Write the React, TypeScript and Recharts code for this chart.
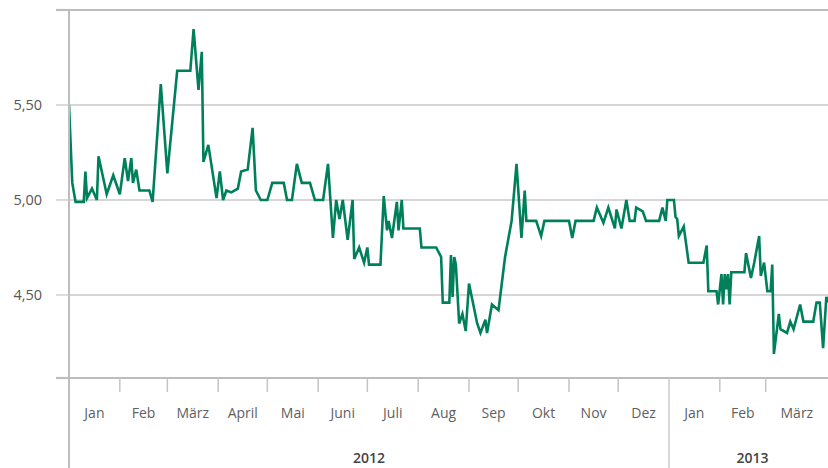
import React from 'react';
import { LineChart, Line, XAxis, YAxis, CartesianGrid, ReferenceLine } from 'recharts';

// day offsets from 1 Jan 2012
const days = [
  0, 2, 4, 9, 10, 11, 14, 17, 18, 23, 27, 31, 34, 36, 38, 39, 41, 43, 49, 51,
  56, 60, 66, 74, 76, 79, 81, 82, 85, 90, 92, 94, 96, 99, 103, 105, 109, 112, 114, 117,
  121, 124, 131, 133, 136, 139, 142, 147, 150, 155, 158, 161, 163, 165, 167, 170, 173, 174, 177, 180,
  182, 183, 190, 192, 194, 195, 197, 200, 201, 203, 204, 214, 215, 224, 227, 228, 232, 233, 234, 235,
  236, 238, 240, 242, 244, 249, 251, 254, 255, 258, 262, 266, 270, 273, 276, 278, 279, 285, 288, 290,
  305, 307, 309, 320, 322, 326, 329, 333, 334, 337, 340, 342, 345, 346, 350, 352, 360, 362, 364, 365,
  369, 370, 371, 372, 375, 378, 387, 389, 390, 395, 396, 398, 399, 400, 401, 402, 403, 404, 412, 413,
  416, 418, 421, 422, 424, 426, 428, 429, 430, 433, 434, 438, 440, 442, 446, 448, 454, 456, 458, 460,
  462, 463,
];

const rates = [
  5.50, 5.09, 4.99, 4.99, 5.15, 5.01, 5.06, 5.00, 5.23, 5.03, 5.13, 5.03, 5.22, 5.10, 5.22, 5.09, 5.16, 5.05, 5.05, 4.99,
  5.61, 5.14, 5.68, 5.68, 5.90, 5.58, 5.78, 5.20, 5.29, 5.01, 5.15, 5.00, 5.05, 5.04, 5.06, 5.15, 5.16, 5.38, 5.05, 5.00,
  5.00, 5.09, 5.09, 5.00, 5.00, 5.19, 5.09, 5.09, 5.00, 5.00, 5.19, 4.80, 5.00, 4.90, 5.00, 4.79, 5.00, 4.69, 4.75, 4.67,
  4.75, 4.66, 4.66, 5.02, 4.84, 4.89, 4.80, 4.99, 4.84, 5.00, 4.85, 4.85, 4.75, 4.75, 4.70, 4.46, 4.46, 4.71, 4.49, 4.70,
  4.66, 4.35, 4.40, 4.31, 4.56, 4.35, 4.30, 4.37, 4.30, 4.45, 4.42, 4.70, 4.89, 5.19, 4.80, 5.05, 4.89, 4.89, 4.81, 4.89,
  4.89, 4.80, 4.89, 4.89, 4.96, 4.88, 4.96, 4.85, 4.95, 4.85, 5.00, 4.89, 4.89, 4.96, 4.94, 4.89, 4.89, 4.96, 4.89, 5.00,
  5.00, 4.91, 4.90, 4.81, 4.86, 4.67, 4.67, 4.76, 4.52, 4.52, 4.45, 4.61, 4.45, 4.61, 4.53, 4.61, 4.45, 4.62, 4.62, 4.72,
  4.59, 4.67, 4.81, 4.60, 4.67, 4.52, 4.52, 4.66, 4.19, 4.40, 4.32, 4.30, 4.36, 4.32, 4.45, 4.36, 4.36, 4.46, 4.46, 4.22,
  4.49, 4.46,
];

const monthStarts = [0, 31, 60, 91, 121, 152, 182, 213, 244, 274, 305, 335, 366, 397, 425];
const monthLabels = ['Jan', 'Feb', 'März', 'April', 'Mai', 'Juni', 'Juli', 'Aug', 'Sep', 'Okt', 'Nov', 'Dez', 'Jan', 'Feb', 'März'];
const yearStarts = [0, 366];
const yearLabels = ['2012', '2013'];
const yearLabelDays = [183, 417];
const yLabelTicks = [4.5, 5.0, 5.5];

const X_MAX = 463;
const Y_MIN = 4.063;
const Y_MAX = 6.0;

const data = days.map((d, i) => ({ day: d, rate: rates[i] }));

const monthMids = monthStarts.map((s, i) => (s + (i + 1 < monthStarts.length ? monthStarts[i + 1] : X_MAX)) / 2);
const xTicks = [...monthStarts, ...monthMids, ...yearLabelDays].sort((a, b) => a - b);
const yTicks = [Y_MIN, ...yLabelTicks, Y_MAX];

const FONT = '"Open Sans", "Noto Sans", sans-serif';

const XTick = (props: any) => {
  const { x, y, payload } = props;
  const v = payload.value;
  const yi = yearStarts.indexOf(v);
  if (yi === 0) {
    return <line x1={x} x2={x} y1={y} y2={y + 95} stroke="#bdbdbd" strokeWidth={2} />;
  }
  if (yi > 0) {
    return <line x1={x} x2={x} y1={y} y2={y + 95} stroke="#c4c4c4" strokeWidth={1.3} />;
  }
  if (monthStarts.indexOf(v) >= 0) {
    return <line x1={x} x2={x} y1={y} y2={y + 14} stroke="#c4c4c4" strokeWidth={1.5} />;
  }
  const mi = monthMids.indexOf(v);
  if (mi >= 0) {
    return (
      <text x={x} y={y + 40} textAnchor="middle" fill="#5f5f5f" fontSize={14} fontFamily={FONT}>
        {monthLabels[mi]}
      </text>
    );
  }
  const li = yearLabelDays.indexOf(v);
  if (li >= 0) {
    return (
      <text x={x} y={y + 85} textAnchor="middle" fill="#444" fontSize={14} fontWeight={600} fontFamily={FONT}>
        {yearLabels[li]}
      </text>
    );
  }
  return null;
};

const YTick = (props: any) => {
  const { x, y, payload } = props;
  const v = payload.value;
  const isTop = v === Y_MAX;
  const isBottom = v === Y_MIN;
  return (
    <g>
      <line
        x1={x + 14}
        x2={x + 27}
        y1={y}
        y2={y}
        stroke={isTop || isBottom ? '#bdbdbd' : '#c8c8c8'}
        strokeWidth={isTop || isBottom ? 2.2 : 1.3}
      />
      {yLabelTicks.indexOf(v) >= 0 && (
        <text x={x} y={y} dy={5} textAnchor="end" fill="#555" fontSize={14.5} fontFamily={FONT}>
          {v.toFixed(2).replace('.', ',')}
        </text>
      )}
    </g>
  );
};

export default function App() {
  return (
    <div style={{ position: 'absolute', left: 0, top: 0, width: 828, height: 468, background: '#fff' }}>
      <LineChart width={828} height={468} data={data} margin={{ top: 10, right: 0, bottom: 0, left: 0 }}>
        <CartesianGrid horizontal vertical={false} stroke="#c8c8c8" strokeWidth={1.3} />
        <ReferenceLine y={Y_MAX} stroke="#bdbdbd" strokeWidth={2.2} />
        <XAxis
          type="number"
          dataKey="day"
          domain={[0, X_MAX]}
          allowDataOverflow
          ticks={xTicks}
          interval={0}
          tickLine={false}
          tickSize={0}
          tickMargin={0}
          axisLine={{ stroke: '#bdbdbd', strokeWidth: 2 }}
          tick={<XTick />}
          height={90}
        />
        <YAxis
          type="number"
          domain={[Y_MIN, Y_MAX]}
          allowDataOverflow
          ticks={yTicks}
          interval={0}
          width={69}
          tickLine={false}
          tickSize={13}
          tickMargin={14}
          axisLine={{ stroke: '#bdbdbd', strokeWidth: 2 }}
          tick={<YTick />}
        />
        <Line
          type="linear"
          dataKey="rate"
          stroke="#00805a"
          strokeWidth={2.6}
          dot={false}
          isAnimationActive={false}
        />
      </LineChart>
    </div>
  );
}
